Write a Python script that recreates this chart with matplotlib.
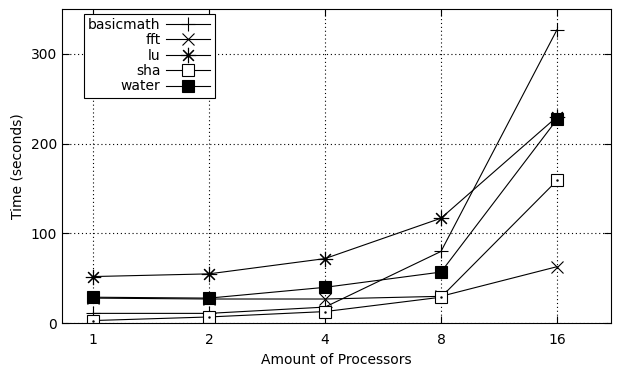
import matplotlib
matplotlib.use('Agg')
import matplotlib.pyplot as plt

# processors and timings (seconds)
processors = [1, 2, 4, 8, 16]
basicmath = [11, 11, 18, 80, 327]
fft = [28, 27, 27, 30, 63]
lu = [52, 55, 72, 117, 230]
sha = [3, 7, 13, 29, 159]
water = [29, 28, 40, 57, 227]

fig, ax = plt.subplots(figsize=(6.3, 3.75), dpi=100)
fig.subplots_adjust(left=0.098, right=0.97, top=0.976, bottom=0.138)

lw = 0.8
ax.plot(processors, basicmath, color='black', lw=lw, marker='+', ms=10, mew=0.8, label='basicmath')
ax.plot(processors, fft, color='black', lw=lw, marker='x', ms=9, mew=0.8, label='fft')
ax.plot(processors, lu, color='black', lw=lw, marker=(8, 2, 0), ms=11, mew=0.8, label='lu')
ax.plot(processors, sha, color='black', lw=lw, marker='s', ms=9, mew=0.8, mfc='white', label='sha')
ax.plot(processors, sha, color='black', lw=0, marker='.', ms=1.5)
ax.plot(processors, water, color='black', lw=lw, marker='s', ms=9, mew=0.8, mfc='black', label='water')

ax.set_xscale('log', base=2)
ax.set_xlim(0.83, 22.1)
ax.set_ylim(0, 350)
ax.set_xticks(processors)
ax.set_xticklabels([str(p) for p in processors])
ax.minorticks_off()
ax.set_yticks([0, 100, 200, 300])
ax.tick_params(direction='in', top=True, right=True, length=5, width=0.8, labelsize=10)
ax.tick_params(axis='x', pad=7)
ax.grid(True, linestyle=(0, (1, 2.5)), color='black', lw=0.8)
ax.set_xlabel('Amount of Processors', fontsize=10)
ax.set_ylabel('Time (seconds)', fontsize=10)

leg = ax.legend(loc='upper left', bbox_to_anchor=(0.04, 0.985), markerfirst=False,
                handlelength=3.2, fancybox=False, framealpha=1, edgecolor='black',
                fontsize=10, borderaxespad=0, labelspacing=0.1, handletextpad=0.4,
                borderpad=0.3)
leg.get_frame().set_linewidth(0.8)
for t in leg.get_texts():
    t.set_ha('right')
leg._legend_box.align = 'right'

fig.savefig('out.png')
